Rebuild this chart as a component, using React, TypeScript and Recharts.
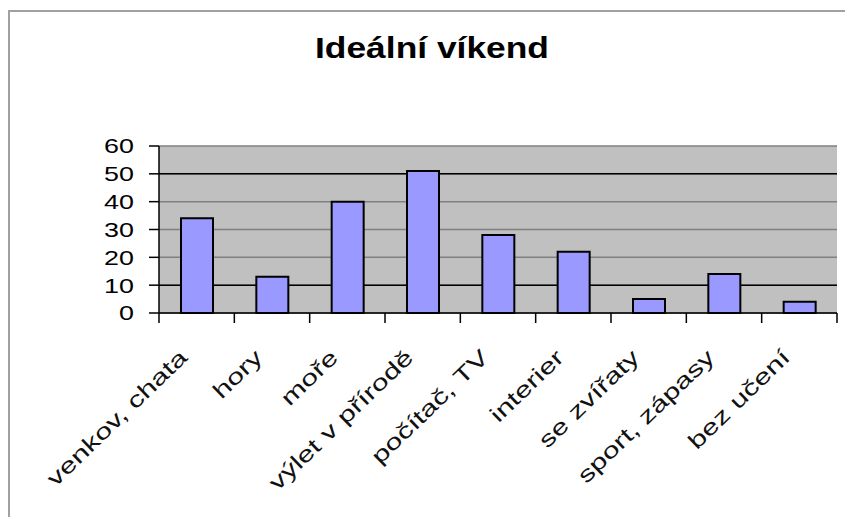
import { BarChart, Bar, XAxis, YAxis, CartesianGrid } from "recharts";

const categories = [
  "venkov, chata",
  "hory",
  "moře",
  "výlet v přírodě",
  "počítač, TV",
  "interier",
  "se zvířaty",
  "sport, zápasy",
  "bez učení",
];
const votes = [34, 13, 40, 51, 28, 22, 5, 14, 4];
const yTicks = [0, 10, 20, 30, 40, 50, 60];
const darkLines = [10, 50];

const data = categories.map((name, i) => ({ name, votes: votes[i] }));

const FONT = "'Liberation Sans', Arial, sans-serif";

function YTick(props: any) {
  const { x, y, payload } = props;
  return (
    <text
      transform={`translate(${x - 13},${y}) scale(1.28,1)`}
      textAnchor="end"
      dominantBaseline="central"
      fontFamily={FONT}
      fontSize={21}
      fill="#000"
    >
      {payload.value}
    </text>
  );
}

// category labels plus tick marks on the band edges
function CatTick(props: any) {
  const { x, y, payload, index } = props;
  const half = payload.offset ?? 0;
  const last = index === categories.length - 1;
  return (
    <g>
      <line x1={x - half} x2={x - half} y1={y} y2={y + 10} stroke="#000" strokeWidth={1.5} />
      {last && (
        <line x1={x + half} x2={x + half} y1={y} y2={y + 10} stroke="#000" strokeWidth={1.5} />
      )}
      <text
        transform={`translate(${x - 8},${y + 46}) rotate(-44) scale(1.38,1)`}
        textAnchor="end"
        fontFamily={FONT}
        fontSize={22}
        fill="#111"
      >
        {payload.value}
      </text>
    </g>
  );
}

export default function App() {
  return (
    <div
      style={{
        position: "absolute",
        left: 0,
        top: 0,
        width: 845,
        height: 517,
        overflow: "hidden",
        background: "#fff",
      }}
    >
      <div
        style={{
          position: "absolute",
          left: 8,
          top: 10,
          width: 900,
          height: 600,
          border: "2px solid #a0a0a0",
        }}
      />
      <div
        style={{
          position: "absolute",
          left: 432,
          top: 34,
          fontFamily: FONT,
          fontWeight: "bold",
          fontSize: 29,
          lineHeight: 1,
          whiteSpace: "nowrap",
          transform: "translateX(-50%) scaleX(1.22)",
        }}
      >
        Ideální víkend
      </div>
      <div style={{ position: "absolute", left: 0, top: 0 }}>
        <BarChart
          width={845}
          height={517}
          data={data}
          margin={{ top: 146, right: 8, left: 0, bottom: 0 }}
        >
          <CartesianGrid
            vertical={false}
            fill="#c0c0c0"
            stroke="#808080"
            strokeWidth={1.5}
          />
          <CartesianGrid
            vertical={false}
            horizontalValues={darkLines}
            fill="none"
            stroke="#000"
            strokeWidth={1.5}
          />
          <XAxis
            dataKey="name"
            interval={0}
            axisLine={{ stroke: "#000", strokeWidth: 1.5 }}
            tickLine={false}
            tickSize={0}
            tickMargin={0}
            height={204}
            tick={<CatTick />}
          />
          <YAxis
            domain={[0, 60]}
            ticks={yTicks}
            width={159}
            tickSize={10}
            tick={<YTick />}
            axisLine={{ stroke: "#000", strokeWidth: 1.5 }}
            tickLine={{ stroke: "#000", strokeWidth: 1.5 }}
          />
          <YAxis
            yAxisId="frame"
            orientation="right"
            width={0}
            tick={false}
            tickLine={false}
            axisLine={{ stroke: "#909090", strokeWidth: 2 }}
          />
          <Bar
            dataKey="votes"
            barSize={32}
            fill="#9999ff"
            stroke="#000"
            strokeWidth={2}
            isAnimationActive={false}
          />
        </BarChart>
      </div>
    </div>
  );
}
